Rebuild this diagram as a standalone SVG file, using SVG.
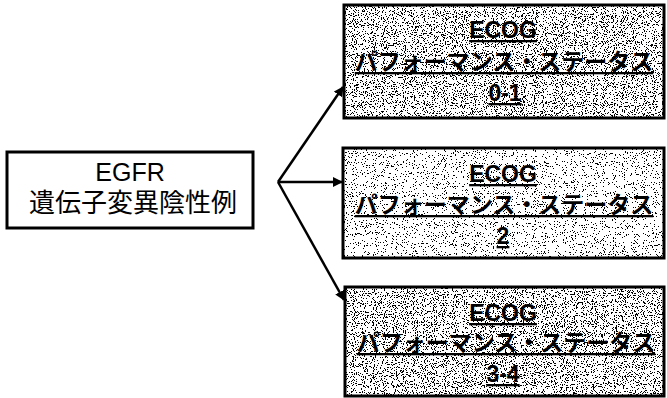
<svg xmlns="http://www.w3.org/2000/svg" width="667" height="398" viewBox="0 0 667 398">
<style>
.box{fill:#fff;stroke:#000;stroke-width:3}
.t{font-family:"Comic Sans MS","Liberation Sans","Noto Sans CJK JP",sans-serif;font-size:23px;text-anchor:middle;fill:#000;font-weight:bold}
.u{text-decoration:underline}
.c{stroke:#000;stroke-width:2.5;fill:none}
</style>
<defs>
<marker id="ah" viewBox="0 0 10 10" refX="9" refY="5" markerWidth="4" markerHeight="4" orient="auto" markerUnits="strokeWidth">
<path d="M0,0 L10,5 L0,10 z" fill="#000"/>
</marker>
<filter id="dense" x="0" y="0" width="1" height="1">
<feTurbulence type="fractalNoise" baseFrequency="0.9" numOctaves="2" seed="3" result="n"/>
<feColorMatrix in="n" type="matrix" values="0 0 0 0 0  0 0 0 0 0  0 0 0 0 0  1 0 0 0 0" result="a"/>
<feComponentTransfer in="a" result="b"><feFuncA type="discrete" tableValues="0 0 0 0 0 0 0 0 0 0 0 0 1 1 1 1 1 1 1 1"/></feComponentTransfer>
<feFlood flood-color="#fff" result="w"/>
<feComposite in="b" in2="w" operator="over"/>
</filter>
<filter id="light" x="0" y="0" width="1" height="1">
<feTurbulence type="fractalNoise" baseFrequency="0.9" numOctaves="2" seed="7" result="n"/>
<feColorMatrix in="n" type="matrix" values="0 0 0 0 0  0 0 0 0 0  0 0 0 0 0  1 0 0 0 0" result="a"/>
<feComponentTransfer in="a" result="b"><feFuncA type="discrete" tableValues="0 0 0 0 0 0 0 0 0 0 0 0 0 1 1 1 1 1 1 1"/></feComponentTransfer>
<feFlood flood-color="#fff" result="w"/>
<feComposite in="b" in2="w" operator="over"/>
</filter>
</defs>
<rect width="667" height="398" fill="#fff"/>
<g id="egfr">
<rect class="box" x="7" y="152" width="246" height="76"/>
<text class="t" x="130" y="181" style="font-size:25px;font-weight:normal">EGFR</text>
<text class="t" x="133" y="212" style="font-size:26px;font-weight:normal">遺伝子変異陰性例</text>
</g>
<g id="ps01">
<rect x="344" y="5" width="320" height="113" fill="#fff" filter="url(#dense)"/>
<rect x="344" y="5" width="320" height="113" fill="none" stroke="#000" stroke-width="3"/>
<text class="t u" x="503" y="38">ECOG</text>
<text class="t u" x="504" y="70">パフォーマンス・ステータス</text>
<text class="t u" x="505" y="101">0-1</text>
</g>
<g id="ps2">
<rect x="343" y="148" width="321" height="110" fill="#fff" filter="url(#light)"/>
<rect x="343" y="148" width="321" height="110" fill="none" stroke="#000" stroke-width="3"/>
<text class="t u" x="503" y="182">ECOG</text>
<text class="t u" x="504" y="213">パフォーマンス・ステータス</text>
<text class="t u" x="503" y="244">2</text>
</g>
<g id="ps34">
<rect x="345" y="287" width="319" height="109" fill="#fff" filter="url(#dense)"/>
<rect x="345" y="287" width="319" height="109" fill="none" stroke="#000" stroke-width="3"/>
<text class="t u" x="503" y="321">ECOG</text>
<text class="t u" x="506" y="351">パフォーマンス・ステータス</text>
<text class="t u" x="503" y="382">3-4</text>
</g>
<g id="connectors">
<path class="c" d="M278,182 L343,87" marker-end="url(#ah)"/>
<path class="c" d="M278,182 L342,182" marker-end="url(#ah)"/>
<path class="c" d="M278,182 L344,300" marker-end="url(#ah)"/>
</g>
</svg>
